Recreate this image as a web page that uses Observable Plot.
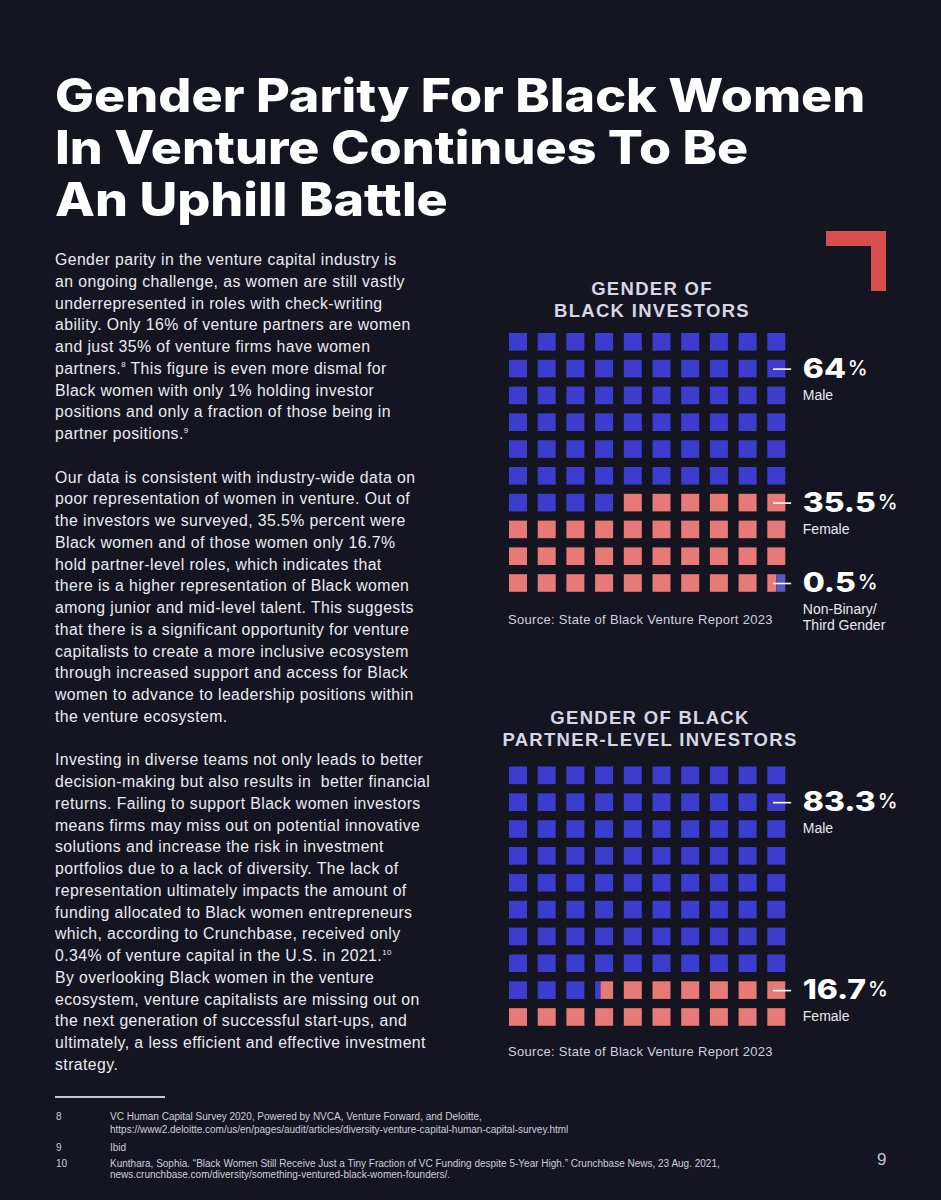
<!DOCTYPE html>
<html>
<head>
<meta charset="utf-8">
<script src="https://cdn.jsdelivr.net/npm/d3@7"></script>
<script src="https://cdn.jsdelivr.net/npm/@observablehq/plot@0.6"></script>
<style>
html, body { margin: 0; padding: 0; background: #141520; }
#page { position: relative; width: 941px; height: 1200px; background: #141520; overflow: hidden;
  font-family: "Liberation Sans", Arial, sans-serif; color: #ebebf1; }
.abs { position: absolute; }
#title { left: 55px; top: 69px; font-family: Inter, "Liberation Sans", sans-serif; font-weight: 800;
  font-size: 46px; line-height: 52px; color: #ffffff; white-space: nowrap;
  transform: scaleX(1.13); transform-origin: 0 0; }
#body { left: 55px; top: 249px; font-size: 15.8px; line-height: 21.75px; letter-spacing: 0.42px; }
#body .line { white-space: nowrap; height: 21.75px; }
sup { font-size: 0.5em; vertical-align: 0; position: relative; top: -0.8em; }
.ctitle { font-weight: bold; font-size: 18.5px; line-height: 22px; color: #d6d6e6; text-align: center;
  white-space: nowrap; letter-spacing: 1.3px; }
.source { font-size: 13px; color: #d2d2dc; white-space: nowrap; line-height: 16px; letter-spacing: 0.3px; }
.fn { font-size: 10px; color: #cfcfd8; white-space: nowrap; line-height: 12px; }
.corner { background: #d6504d; }
</style>
</head>
<body>
<div id="page">
  <div id="title" class="abs"></div>
  <div id="body" class="abs"></div>
  <div class="abs corner" style="left:826px; top:231px; width:60px; height:15px;"></div>
  <div class="abs corner" style="left:871px; top:231px; width:15px; height:60px;"></div>
  <div id="ctitle1" class="abs ctitle" style="left:502px; top:278px; width:300px;"></div>
  <div id="chart1" class="abs" style="left:500px; top:320px;"></div>
  <div id="source1" class="abs source" style="left:508px; top:612px;"></div>
  <div id="ctitle2" class="abs ctitle" style="left:500px; top:707px; width:300px;"></div>
  <div id="chart2" class="abs" style="left:500px; top:750px;"></div>
  <div id="source2" class="abs source" style="left:508px; top:1044px;"></div>
  <div class="abs" style="left:55px; top:1096px; width:110px; height:1.5px; background:#c9c9d2;"></div>
  <div id="footnotes" class="abs" style="left:0; top:0;"></div>
  <div id="pagenum" class="abs" style="left:877px; top:1150px; font-size:17px; color:#c4c4cc;">9</div>
</div>
<script>
// ---------- DATA ----------
const pageTitle = ["Gender Parity For Black Women", "In Venture Continues To Be", "An Uphill Battle"];

const topChartTitle = ["GENDER OF", "BLACK INVESTORS"];
const topCategories = ["Male", "Female", "Non-Binary/Third Gender"];
const topValues = [64, 35.5, 0.5];
const topValueLabels = ["64", "35.5", "0.5"];
const topCategoryLabels = ["Male", "Female", "Non-Binary/\nThird Gender"];

const bottomChartTitle = ["GENDER OF BLACK", "PARTNER-LEVEL INVESTORS"];
const bottomCategories = ["Male", "Female"];
const bottomValues = [83.3, 16.7];
const bottomValueLabels = ["83.3", "16.7"];
const bottomCategoryLabels = ["Male", "Female"];

const sourceText = "Source: State of Black Venture Report 2023";

const paragraph1 = [
  "Gender parity in the venture capital industry is",
  "an ongoing challenge, as women are still vastly",
  "underrepresented in roles with check-writing",
  "ability. Only 16% of venture partners are women",
  "and just 35% of venture firms have women",
  "partners.^8 This figure is even more dismal for",
  "Black women with only 1% holding investor",
  "positions and only a fraction of those being in",
  "partner positions.^9"
];
const paragraph2 = [
  "Our data is consistent with industry-wide data on",
  "poor representation of women in venture. Out of",
  "the investors we surveyed, 35.5% percent were",
  "Black women and of those women only 16.7%",
  "hold partner-level roles, which indicates that",
  "there is a higher representation of Black women",
  "among junior and mid-level talent. This suggests",
  "that there is a significant opportunity for venture",
  "capitalists to create a more inclusive ecosystem",
  "through increased support and access for Black",
  "women to advance to leadership positions within",
  "the venture ecosystem."
];
const paragraph3 = [
  "Investing in diverse teams not only leads to better",
  "decision-making but also results in\u00a0 better financial",
  "returns. Failing to support Black women investors",
  "means firms may miss out on potential innovative",
  "solutions and increase the risk in investment",
  "portfolios due to a lack of diversity. The lack of",
  "representation ultimately impacts the amount of",
  "funding allocated to Black women entrepreneurs",
  "which, according to Crunchbase, received only",
  "0.34% of venture capital in the U.S. in 2021.^10",
  "By overlooking Black women in the venture",
  "ecosystem, venture capitalists are missing out on",
  "the next generation of successful start-ups, and",
  "ultimately, a less efficient and effective investment",
  "strategy."
];

const footnoteNumbers = ["8", "9", "10"];
const footnoteTexts = [
  ["VC Human Capital Survey 2020, Powered by NVCA, Venture Forward, and Deloitte,",
   "https://www2.deloitte.com/us/en/pages/audit/articles/diversity-venture-capital-human-capital-survey.html"],
  ["Ibid"],
  ["Kunthara, Sophia. \u201cBlack Women Still Receive Just a Tiny Fraction of VC Funding despite 5-Year High.\u201d Crunchbase News, 23 Aug. 2021,",
   "news.crunchbase.com/diversity/something-ventured-black-women-founders/."]
];

// ---------- STYLE / LAYOUT ----------
const colorMap = {"Male": "#3c3dcf", "Female": "#e77a77", "Non-Binary/Third Gender": "#5859bd"};
const COLS = 10, ROWS = 10;
const PITCH_X = 28.7;
const SQ_W = 18 / 28.7;      // square width in column units
const SQ_H = 17.6 / 26.8;    // square height in row units
const LABEL_X = 10.22;
const NUM_SIZE = 27;
const NUM_STRETCH = 1.18;
const numFont = "Inter, 'Liberation Sans', sans-serif";

// ---------- TEXT ----------
function esc(s) { return s.replace(/&/g, "&amp;").replace(/</g, "&lt;"); }
function supify(s) { return esc(s).replace(/\^(\d+)/g, "<sup>$1</sup>"); }
document.getElementById("title").innerHTML = pageTitle.map(esc).join("<br>");
const bodyLines = [...paragraph1, "", ...paragraph2, "", ...paragraph3];
document.getElementById("body").innerHTML = bodyLines.map(l => `<div class="line">${l ? supify(l) : "&nbsp;"}</div>`).join("");
document.getElementById("ctitle1").innerHTML = topChartTitle.map(esc).join("<br>");
document.getElementById("ctitle2").innerHTML = bottomChartTitle.map(esc).join("<br>");
document.getElementById("source1").textContent = sourceText;
document.getElementById("source2").textContent = sourceText;

const fnTops = [1111, 1142, 1158];
const fnLineGap = [13, 13, 11];
let fnHtml = "";
footnoteNumbers.forEach((n, k) => {
  fnHtml += `<div class="abs fn" style="left:56px; top:${fnTops[k]}px;">${n}</div>`;
  footnoteTexts[k].forEach((t, j) => {
    fnHtml += `<div class="abs fn" style="left:110px; top:${fnTops[k] + j * fnLineGap[k]}px;">${esc(t)}</div>`;
  });
});
document.getElementById("footnotes").innerHTML = fnHtml;

// ---------- WAFFLES ----------
const ctx = document.createElement("canvas").getContext("2d");
function textWidth(s, font) { ctx.font = font; return ctx.measureText(s).width; }

function waffle(categories, values, valueLabels, catLabels, yRange, height) {
  const segs = [];
  let acc = 0;
  categories.forEach((c, k) => { segs.push({category: c, a: acc, b: acc + values[k], k}); acc += values[k]; });
  const cells = [];
  for (let i = 0; i < COLS * ROWS; i++) {
    for (const s of segs) {
      const a = Math.max(i, s.a), b = Math.min(i + 1, s.b);
      if (b - a > 1e-9) cells.push({row: Math.floor(i / COLS), col: i % COLS, f0: a - i, f1: b - i, category: s.category});
    }
  }
  const labels = segs.map(s => ({
    row: Math.max(1, Math.floor(s.a / COLS)),
    value: valueLabels[s.k],
    label: catLabels[s.k]
  }));
  const svg = Plot.plot({
    width: 441, height,
    marginLeft: 0, marginRight: 0, marginTop: 0, marginBottom: 0,
    x: {domain: [0, COLS], range: [9, 9 + COLS * PITCH_X], axis: null},
    y: {domain: [0, ROWS], range: yRange, axis: null},
    color: {domain: categories, range: categories.map(c => colorMap[c])},
    style: {background: "transparent", overflow: "visible"},
    marks: [
      Plot.rect(cells, {
        x1: d => d.col + d.f0 * SQ_W, x2: d => d.col + d.f1 * SQ_W,
        y1: d => d.row, y2: d => d.row + SQ_H, fill: "category"
      }),
      Plot.ruleY(labels, {y: d => d.row + SQ_H / 2, x1: () => 9.2, x2: () => 9.83, stroke: "#ffffff", strokeWidth: 1.6}),
      Plot.text(labels, {
        x: () => LABEL_X, y: d => d.row + SQ_H / 2, text: "value", textAnchor: "start",
        fontSize: NUM_SIZE, fontWeight: 800, fill: "#ffffff", fontFamily: numFont
      }),
      Plot.text(labels, {
        x: d => LABEL_X + (textWidth(d.value, `800 ${NUM_SIZE}px Inter`) * NUM_STRETCH + 2) / PITCH_X,
        y: d => d.row + SQ_H / 2, text: () => "%", textAnchor: "start", dy: -1,
        fontSize: 20, fontWeight: 500, fill: "#ffffff", fontFamily: numFont
      }),
      Plot.text(labels, {
        x: () => LABEL_X, y: d => d.row + SQ_H / 2, text: "label", textAnchor: "start",
        lineAnchor: "top", dy: 19, lineHeight: 1.15,
        fontSize: 14, fill: "#e8e8f0", fontFamily: "'Liberation Sans', Arial, sans-serif"
      })
    ]
  });
  // widen the big numbers to imitate the extended display face
  svg.querySelectorAll(`g[font-size="${NUM_SIZE}"] text`).forEach(t => {
    const tr = t.getAttribute("transform");
    if (tr) t.setAttribute("transform", tr + ` scale(${NUM_STRETCH},1)`);
  });
  return svg;
}

document.getElementById("chart1").appendChild(
  waffle(topCategories, topValues, topValueLabels, topCategoryLabels, [13, 13 + 268], 330));
document.getElementById("chart2").appendChild(
  waffle(bottomCategories, bottomValues, bottomValueLabels, bottomCategoryLabels, [16.5, 16.5 + 268.5], 300));
</script>
</body>
</html>
